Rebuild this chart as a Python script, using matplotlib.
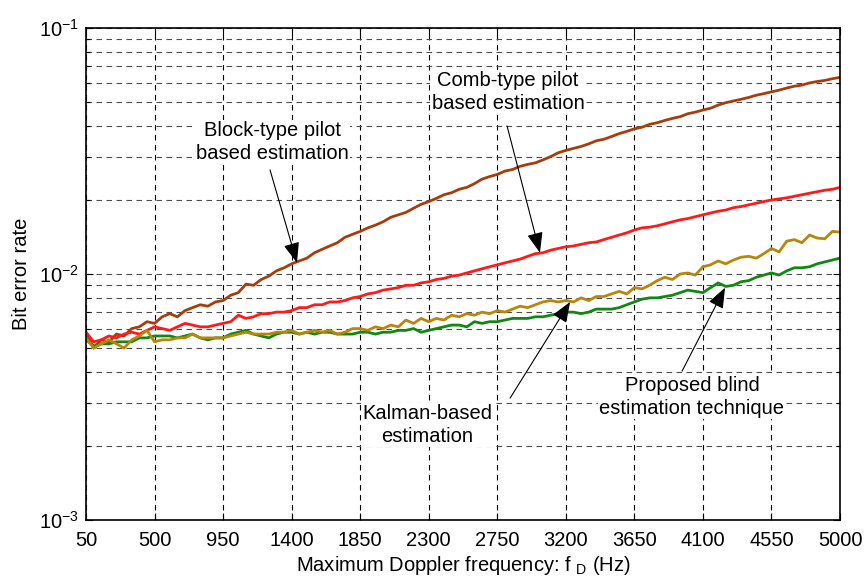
import numpy as np
import matplotlib.pyplot as plt
from matplotlib.ticker import FixedLocator, LogLocator, NullFormatter

plt.rcParams['font.family'] = ['Liberation Sans', 'DejaVu Sans']
plt.rcParams['mathtext.fontset'] = 'custom'
plt.rcParams['mathtext.rm'] = 'Liberation Sans'

# =====================================================
# DATA  (BER vs maximum Doppler frequency)
# =====================================================

fd = np.arange(50, 5001, 50)

ber_block = [
    0.0058, 0.0050, 0.0054, 0.0053, 0.0057, 0.0056, 0.0060, 0.0061, 0.0064, 0.0063,
    0.0067, 0.0069, 0.0067, 0.0071, 0.0073, 0.0075, 0.0074, 0.0077, 0.0078, 0.0082,
    0.0084, 0.0091, 0.0090, 0.0095, 0.0098, 0.0103, 0.0106, 0.0110, 0.0113, 0.0116,
    0.0122, 0.0126, 0.0130, 0.0134, 0.0141, 0.0145, 0.0149, 0.0154, 0.0158, 0.0163,
    0.0170, 0.0174, 0.0178, 0.0185, 0.0192, 0.0197, 0.0203, 0.0210, 0.0214, 0.0221,
    0.0225, 0.0233, 0.0243, 0.0249, 0.0254, 0.0262, 0.0266, 0.0274, 0.0279, 0.0283,
    0.0291, 0.0300, 0.0311, 0.0318, 0.0324, 0.0330, 0.0338, 0.0348, 0.0353, 0.0362,
    0.0372, 0.0380, 0.0389, 0.0395, 0.0406, 0.0412, 0.0421, 0.0429, 0.0436, 0.0448,
    0.0455, 0.0464, 0.0472, 0.0486, 0.0497, 0.0505, 0.0513, 0.0522, 0.0533, 0.0541,
    0.0550, 0.0559, 0.0570, 0.0580, 0.0586, 0.0598, 0.0606, 0.0612, 0.0622, 0.0630,
]

ber_comb = [
    0.0058, 0.0053, 0.0054, 0.0056, 0.0055, 0.0057, 0.0058, 0.0057, 0.0059, 0.0061,
    0.0060, 0.0059, 0.0061, 0.0063, 0.0062, 0.0061, 0.0061, 0.0062, 0.0063, 0.0064,
    0.0068, 0.0066, 0.0067, 0.0069, 0.0069, 0.0070, 0.0070, 0.0071, 0.0073, 0.0073,
    0.0075, 0.0075, 0.0077, 0.0077, 0.0078, 0.0080, 0.0081, 0.0083, 0.0084, 0.0086,
    0.0087, 0.0088, 0.0090, 0.0090, 0.0092, 0.0093, 0.0095, 0.0096, 0.0098, 0.0099,
    0.0101, 0.0103, 0.0105, 0.0107, 0.0109, 0.0111, 0.0113, 0.0115, 0.0118, 0.0121,
    0.0122, 0.0125, 0.0127, 0.0129, 0.0130, 0.0132, 0.0134, 0.0135, 0.0138, 0.0141,
    0.0144, 0.0147, 0.0151, 0.0154, 0.0155, 0.0157, 0.0160, 0.0163, 0.0166, 0.0168,
    0.0171, 0.0174, 0.0177, 0.0180, 0.0182, 0.0186, 0.0188, 0.0191, 0.0194, 0.0197,
    0.0200, 0.0202, 0.0204, 0.0207, 0.0210, 0.0213, 0.0216, 0.0219, 0.0221, 0.0225,
]

ber_kalman = [
    0.0055, 0.0050, 0.0052, 0.0054, 0.0052, 0.0050, 0.0054, 0.0056, 0.0059, 0.0053,
    0.0054, 0.0054, 0.0055, 0.0055, 0.0057, 0.0055, 0.0055, 0.0055, 0.0055, 0.0056,
    0.0057, 0.0058, 0.0057, 0.0057, 0.0057, 0.0058, 0.0058, 0.0059, 0.0057, 0.0058,
    0.0059, 0.0058, 0.0059, 0.0057, 0.0058, 0.0060, 0.0060, 0.0059, 0.0061, 0.0060,
    0.0062, 0.0061, 0.0065, 0.0063, 0.0066, 0.0064, 0.0066, 0.0065, 0.0068, 0.0067,
    0.0069, 0.0068, 0.0070, 0.0069, 0.0071, 0.0070, 0.0072, 0.0074, 0.0073, 0.0075,
    0.0077, 0.0078, 0.0077, 0.0078, 0.0077, 0.0080, 0.0078, 0.0081, 0.0081, 0.0083,
    0.0085, 0.0083, 0.0088, 0.0087, 0.0090, 0.0094, 0.0097, 0.0095, 0.0100, 0.0101,
    0.0099, 0.0107, 0.0109, 0.0113, 0.0110, 0.0114, 0.0117, 0.0118, 0.0116, 0.0121,
    0.0127, 0.0123, 0.0136, 0.0138, 0.0134, 0.0144, 0.0140, 0.0139, 0.0149, 0.0148,
]

ber_blind = [
    0.0054, 0.0051, 0.0052, 0.0052, 0.0053, 0.0053, 0.0053, 0.0055, 0.0055, 0.0056,
    0.0056, 0.0056, 0.0055, 0.0056, 0.0057, 0.0055, 0.0054, 0.0055, 0.0055, 0.0057,
    0.0058, 0.0059, 0.0057, 0.0056, 0.0055, 0.0057, 0.0058, 0.0058, 0.0057, 0.0058,
    0.0057, 0.0058, 0.0058, 0.0057, 0.0057, 0.0057, 0.0058, 0.0058, 0.0057, 0.0058,
    0.0058, 0.0059, 0.0059, 0.0060, 0.0058, 0.0059, 0.0060, 0.0061, 0.0062, 0.0062,
    0.0061, 0.0064, 0.0063, 0.0064, 0.0064, 0.0065, 0.0066, 0.0066, 0.0066, 0.0067,
    0.0067, 0.0068, 0.0069, 0.0070, 0.0070, 0.0069, 0.0070, 0.0072, 0.0072, 0.0072,
    0.0073, 0.0075, 0.0077, 0.0079, 0.0080, 0.0080, 0.0081, 0.0082, 0.0084, 0.0086,
    0.0085, 0.0084, 0.0088, 0.0092, 0.0089, 0.0090, 0.0093, 0.0094, 0.0097, 0.0099,
    0.0101, 0.0099, 0.0103, 0.0106, 0.0106, 0.0107, 0.0110, 0.0112, 0.0114, 0.0116,
]

x_ticks = [50, 500, 950, 1400, 1850, 2300, 2750, 3200, 3650, 4100, 4550, 5000]

# =====================================================
# FIGURE
# =====================================================

fig = plt.figure(figsize=(8.67, 5.83), dpi=100)
ax = fig.add_axes([0.0992, 0.108, 0.8697, 0.844])

lw = 2.0
ax.plot(fd, ber_block, color="#A63D0C", lw=lw)
ax.plot(fd, ber_comb, color="#FF1A1A", lw=lw)
ax.plot(fd, ber_blind, color="#118811", lw=lw)
ax.plot(fd, ber_kalman, color="#B8860B", lw=lw)

ax.set_yscale("log")
ax.set_xlim(50, 5000)
ax.set_ylim(1e-3, 1e-1)

ax.xaxis.set_major_locator(FixedLocator(x_ticks))
ax.yaxis.set_major_locator(LogLocator(base=10))
ax.yaxis.set_minor_locator(LogLocator(base=10, subs=np.arange(2, 10)))
ax.yaxis.set_minor_formatter(NullFormatter())

ax.tick_params(which="both", direction="in", top=True, right=True,
               labelsize=14.5)
ax.tick_params(which="major", length=5, width=0.8)
ax.tick_params(which="minor", length=3, width=0.8)
ax.tick_params(axis="x", pad=8)
ax.tick_params(axis="y", pad=5)

grid_style = dict(linestyle=(0, (5, 4)), linewidth=0.8)
ax.grid(True, which="major", axis="x", color="black", **grid_style)
ax.grid(True, which="both", axis="y", color="0.3", **grid_style)

for s in ax.spines.values():
    s.set_linewidth(1.2)

ax.set_xlabel(r"Maximum Doppler frequency: f $_{\mathregular{D}}$ (Hz)",
              fontsize=14.5, labelpad=3)
ax.set_ylabel("Bit error rate", fontsize=14.5, labelpad=6)

# =====================================================
# ANNOTATIONS
# =====================================================

box = dict(facecolor="white", edgecolor="none", pad=1)
arrow = dict(arrowstyle="-|>,head_length=0.9,head_width=0.35",
             color="black", lw=0.8, shrinkA=0, shrinkB=0,
             mutation_scale=14)

ax.text(1271, 0.0344, "Block-type pilot\nbased estimation", ha="center",
        va="center", fontsize=14.5, bbox=box, linespacing=1.25)
ax.annotate("", xy=(1435, 0.0111), xytext=(1258, 0.0265), arrowprops=arrow)

ax.text(2820, 0.0550, "Comb-type pilot\nbased estimation", ha="center",
        va="center", fontsize=14.5, bbox=box, linespacing=1.25)
ax.annotate("", xy=(3030, 0.0122), xytext=(2814, 0.040), arrowprops=arrow)

ax.text(2289, 0.00243, "Kalman-based\nestimation", ha="center",
        va="center", fontsize=14.5, bbox=box, linespacing=1.25)
ax.annotate("", xy=(3228, 0.0077), xytext=(2834, 0.00313), arrowprops=arrow)

ax.text(4028, 0.00316, "Proposed blind\nestimation technique", ha="center",
        va="center", fontsize=14.5, bbox=box, linespacing=1.25)
ax.annotate("", xy=(4245, 0.0088), xytext=(3963, 0.00403), arrowprops=arrow)

fig.savefig("out.png", dpi=100)
plt.close(fig)
